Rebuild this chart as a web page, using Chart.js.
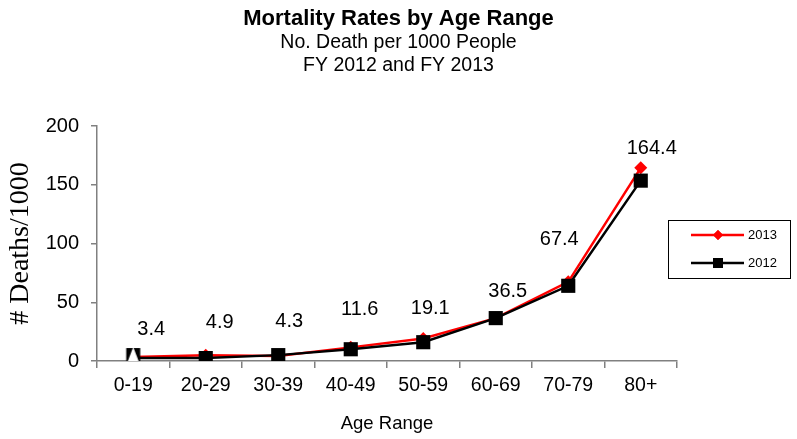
<!DOCTYPE html>
<html>
<head>
<meta charset="utf-8">
<title>Mortality Rates by Age Range</title>
<script src="https://cdn.jsdelivr.net/npm/chart.js@4/dist/chart.umd.min.js"></script>
<style>
  html, body { margin: 0; padding: 0; background: #fff; }
  canvas { display: block; }
</style>
</head>
<body>
<canvas id="grafico" width="797" height="439"></canvas>
<script>
// dados
const faixas = ['0-19', '20-29', '30-39', '40-49', '50-59', '60-69', '70-79', '80+'];
const fy2013 = [3.4, 4.9, 4.3, 11.6, 19.1, 36.5, 67.4, 164.4];
const fy2012 = [2.5, 2.5, 5.0, 10.0, 16.0, 36.5, 64.0, 153.5];
const rotulos2013 = ['3.4', '4.9', '4.3', '11.6', '19.1', '36.5', '67.4', '164.4'];
const yTicks = [0, 50, 100, 150, 200];

// deslocamento (px) de cada rótulo em relação ao ponto — só estilo
const desloc = [[18, -28], [14, -33], [11, -34], [9, -38], [7, -30], [12, -27], [-9, -42], [11, -19]];

const FONTE = 'Arial, "Liberation Sans", sans-serif';
const CINZA = '#808080';

// marcador do primeiro ponto de 2012: quadrado preto com triângulo branco por cima
function marcadorTriangulo() {
  const c = document.createElement('canvas');
  c.width = 17; c.height = 22;
  const g = c.getContext('2d');
  g.fillStyle = '#000';
  g.fillRect(1.5, 1, 14, 14);
  g.fillStyle = '#fff';
  g.beginPath();
  g.moveTo(8.5, 0); g.lineTo(17, 22); g.lineTo(0, 22); g.closePath();
  g.fill();
  return c;
}
const estilos2012 = fy2012.map((_, i) => i === 0 ? marcadorTriangulo() : 'rect');

const titulos = {
  id: 'titulos',
  afterDraw(chart) {
    const ctx = chart.ctx;
    const cx = chart.width / 2;
    ctx.save();
    ctx.fillStyle = '#000';
    ctx.textAlign = 'center';
    ctx.textBaseline = 'middle';
    ctx.font = 'bold 22px ' + FONTE;
    ctx.fillText('Mortality Rates by Age Range', cx, 19);
    ctx.font = '19.5px ' + FONTE;
    ctx.fillText('No. Death per 1000 People', cx, 43);
    ctx.fillText('FY 2012 and FY 2013', cx, 66);
    ctx.restore();
  }
};

const rotulos = {
  id: 'rotulos',
  afterDatasetsDraw(chart) {
    const ctx = chart.ctx;
    const meta = chart.getDatasetMeta(0);
    ctx.save();
    ctx.fillStyle = '#000';
    ctx.font = '20px ' + FONTE;
    ctx.textAlign = 'center';
    ctx.textBaseline = 'middle';
    meta.data.forEach((p, i) => {
      ctx.fillText(rotulos2013[i], p.x + desloc[i][0], p.y + desloc[i][1]);
    });
    ctx.restore();
  }
};

const legenda = {
  id: 'legenda',
  afterDraw(chart) {
    const ctx = chart.ctx;
    const x0 = 668, y0 = 220, w = 122, h = 58;
    ctx.save();
    ctx.strokeStyle = '#000';
    ctx.lineWidth = 1;
    ctx.strokeRect(x0 + 0.5, y0 + 0.5, w, h);
    const itens = [
      { txt: '2013', cor: '#ff0000', ds: 0, y: y0 + 15 },
      { txt: '2012', cor: '#000000', ds: 1, y: y0 + 43 },
    ];
    ctx.font = '13px ' + FONTE;
    ctx.textBaseline = 'middle';
    for (const it of itens) {
      ctx.strokeStyle = it.cor;
      ctx.lineWidth = 2.5;
      ctx.beginPath();
      ctx.moveTo(x0 + 23, it.y);
      ctx.lineTo(x0 + 76, it.y);
      ctx.stroke();
      ctx.fillStyle = it.cor;
      if (it.ds === 0) {
        Chart.helpers.drawPoint(ctx, { pointStyle: 'rectRot', radius: 5, borderWidth: 0 }, x0 + 50, it.y);
        ctx.fill();
      } else {
        ctx.fillRect(x0 + 45, it.y - 5, 10, 10);
      }
      ctx.fillStyle = '#000';
      ctx.fillText(it.txt, x0 + 80, it.y);
    }
    ctx.restore();
  }
};

new Chart(document.getElementById('grafico'), {
  type: 'line',
  data: {
    labels: faixas,
    datasets: [
      {
        label: '2013', data: fy2013, order: 1,
        borderColor: '#ff0000', backgroundColor: '#ff0000', borderWidth: 2.5,
        pointStyle: 'rectRot', pointRadius: 6.5, pointBorderWidth: 0,
        tension: 0,
      },
      {
        label: '2012', data: fy2012, order: 0,
        borderColor: '#000000', backgroundColor: '#000000', borderWidth: 2.5,
        pointStyle: estilos2012, pointRadius: 10, pointBorderWidth: 0,
        tension: 0,
      },
    ],
  },
  options: {
    responsive: false,
    animation: false,
    layout: { padding: { top: 126, right: 120, left: 0, bottom: 0 } },
    plugins: { legend: { display: false }, title: { display: false }, tooltip: { enabled: false } },
    scales: {
      x: {
        offset: true,
        grid: { display: true, drawOnChartArea: false, offset: true, tickLength: 7, color: CINZA, lineWidth: 1.5 },
        border: { color: CINZA, width: 1.5 },
        ticks: { color: '#000', font: { family: FONTE, size: 19.5 }, padding: 6 },
        title: { display: true, text: 'Age Range', color: '#000', font: { family: FONTE, size: 18.5 }, padding: { top: 6 } },
        afterFit(s) { s.height = 78; },
      },
      y: {
        min: 0, max: 200,
        afterBuildTicks(s) { s.ticks = yTicks.map(v => ({ value: v })); },
        grid: { display: true, drawOnChartArea: false, tickLength: 6, color: CINZA, lineWidth: 1.5 },
        border: { color: CINZA, width: 1.5 },
        ticks: { color: '#000', font: { family: FONTE, size: 20 }, padding: 12 },
        title: { display: true, text: '# Deaths/1000', color: '#000', font: { family: '"Liberation Serif", "Times New Roman", serif', size: 28 }, padding: { bottom: 4 } },
        afterFit(s) { s.width = 97; },
      },
    },
  },
  plugins: [titulos, rotulos, legenda],
});
</script>
</body>
</html>
